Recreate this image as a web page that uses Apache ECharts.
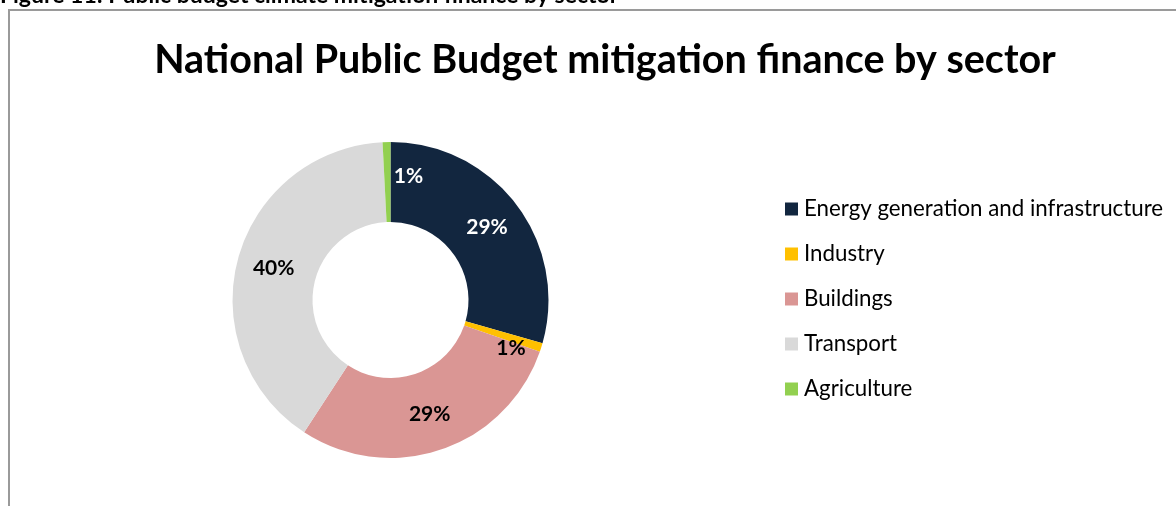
<!DOCTYPE html>
<html>
<head>
<meta charset="utf-8">
<title>National Public Budget mitigation finance by sector</title>
<script src="https://cdn.jsdelivr.net/npm/echarts@6/dist/echarts.min.js"></script>
<style>
  html, body { margin: 0; padding: 0; background: #ffffff; }
  #chart { width: 1176px; height: 506px; }
</style>
</head>
<body>
<div id="chart"></div>
<script>
// Sectors and their share of mitigation finance (percent of total)
const sectors = [
  'Energy generation and infrastructure',
  'Industry',
  'Buildings',
  'Transport',
  'Agriculture'
];
const shares = [29.4, 0.9, 28.9, 40.0, 0.8];
const sectorColors = ['#12263F', '#FFC000', '#DA9694', '#D9D9D9', '#92D050'];
const labelColors = ['#ffffff', '#000000', '#000000', '#000000', '#ffffff'];

const captionText = 'Figure 11: Public budget climate mitigation finance by sector';
const titleText = 'National Public Budget mitigation finance by sector';

const FONT = 'Lato, "Open Sans", "DejaVu Sans", sans-serif';

const chart = echarts.init(document.getElementById('chart'), null, { renderer: 'canvas' });

// small nudges for the labels of the thin slices
const labelNudge = { 1: [5, 12], 4: [21, -3] };

chart.setOption({
  animation: false,
  backgroundColor: '#ffffff',
  graphic: [
    {
      type: 'text',
      left: 0,
      top: -16,
      style: {
        text: captionText,
        font: 'bold 23px ' + FONT,
        fill: '#000000'
      }
    },
    {
      type: 'rect',
      shape: { x: 9, y: 10, width: 1300, height: 600 },
      style: { fill: 'none', stroke: '#9a9a9a', lineWidth: 2 }
    }
  ],
  title: {
    text: titleText,
    left: 600,
    textAlign: 'center',
    top: 35,
    textStyle: {
      fontFamily: FONT,
      fontWeight: 'bold',
      fontSize: 39.5,
      color: '#000000'
    }
  },
  legend: {
    orient: 'vertical',
    left: 785,
    top: 198,
    padding: 0,
    itemWidth: 13,
    itemHeight: 13,
    itemGap: 23,
    icon: 'rect',
    selectedMode: false,
    data: sectors,
    textStyle: {
      fontFamily: FONT,
      fontSize: 22.3,
      lineHeight: 22,
      color: '#000000',
      padding: [0, 0, 0, 1]
    }
  },
  series: [
    {
      type: 'pie',
      center: [390.5, 300],
      radius: [78, 158],
      startAngle: 90,
      clockwise: true,
      avoidLabelOverlap: false,
      silent: true,
      itemStyle: { borderWidth: 0 },
      label: {
        show: true,
        position: 'inside',
        fontFamily: FONT,
        fontWeight: 'bold',
        fontSize: 21,
        formatter: p => Math.round(p.value) + '%'
      },
      labelLine: { show: false },
      labelLayout: function (params) {
        const n = labelNudge[params.dataIndex];
        return n ? { dx: n[0], dy: n[1] } : {};
      },
      data: sectors.map((name, i) => ({
        name: name,
        value: shares[i],
        itemStyle: { color: sectorColors[i] },
        label: { color: labelColors[i] }
      }))
    }
  ]
});
</script>
</body>
</html>
